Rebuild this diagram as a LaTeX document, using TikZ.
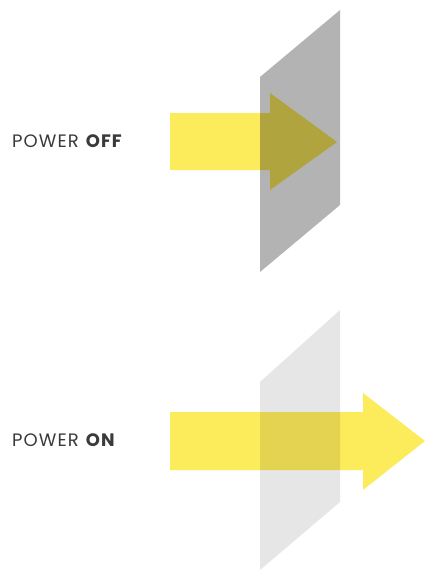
\documentclass[tikz,border=0pt]{standalone}
\usepackage{fontspec}
\setmainfont{Poppins}[LetterSpace=6]
\definecolor{rayyellow}{HTML}{FCEB5A}
\definecolor{shutgray}{HTML}{B3B3B3}
\definecolor{opengray}{HTML}{E6E6E6}
\definecolor{labelgray}{HTML}{3A3A3A}
\begin{document}
\begin{tikzpicture}[x=1pt,y=-1pt,
  ray/.style={fill=rayyellow, blend mode=multiply},
  state/.style={anchor=west, inner sep=0pt, text=labelgray, font=\fontsize{18}{20}\selectfont}]
  \useasboundingbox (0,0) rectangle (425,570);

  % power off: the plate blocks the ray
  \fill[shutgray] (260,77) -- (340,10) -- (340,205) -- (260,272) -- cycle;
  \fill[ray] (170,113) -- (270,113) -- (270,93) -- (337,142) -- (270,190)
    -- (270,170) -- (170,170) -- cycle;
  \node[state] (offlabel) at (12,141) {POWER \textbf{OFF}};

  % power on: the plate lets the ray through
  \fill[opengray] (260,382) -- (340,310) -- (340,502) -- (260,570) -- cycle;
  \fill[ray] (170,412) -- (363,412) -- (363,393) -- (425,441) -- (363,490)
    -- (363,470) -- (170,470) -- cycle;
  \node[state] (onlabel) at (12,440) {POWER \textbf{ON}};
\end{tikzpicture}
\end{document}
